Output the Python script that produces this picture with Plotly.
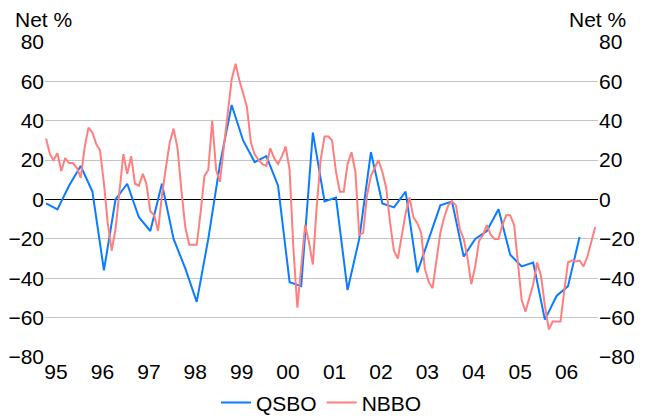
import plotly.graph_objects as go
import pandas as pd

# Quarterly QSBO (1995Q1 .. 2006Q3)
qsbo_values = [
    -2, -5, 7, 17,
    4, -36, 0, 8,
    -9, -16, 8, -20,
    -35, -52, -20, 18,
    48, 30, 19, 22,
    7, -42, -44, 34,
    -1, 1, -46, -20,
    24, -2, -4, 4,
    -37, -20, -3, -1,
    -29, -20, -16, -5,
    -28, -34, -32, -61,
    -49, -44, -19,
]
# Monthly NBBO (Jan 1995 .. Nov 2006)
nbbo_values = [
    31, 23, 20, 23.5, 14.5, 21, 18.5, 18.5, 16, 11, 26.5, 36.5,
    34, 28, 25, 8, -12, -26, -15, 5, 23, 13, 22, 8,
    7, 13, 8, -6, -8, -16, 2, 16, 29, 36, 26, 5,
    -14, -23, -23, -23, -7, 12, 15, 40, 15, 9, 27, 45,
    61, 69, 61, 54, 47, 29, 23, 20, 18, 17, 26, 21,
    18, 22, 27, 15, -25, -55, -33, -13, -22, -33, -3, 20,
    32, 32, 30, 14, 4, 4, 18, 24, 14, -18, -17, 2,
    12, 16, 20, 14, 6, -12, -26, -30, -19, -7, 1, -9,
    -12, -17, -35, -42, -45, -30, -17, -9, -3, -1, -3, -15,
    -20, -30, -43, -34, -21, -18, -13, -18, -20, -20, -13, -8,
    -8, -13, -32, -51, -57, -50, -43, -32, -39, -54, -66, -62,
    -62, -62, -47, -32, -31, -31.5, -31, -34, -29, -22, -14,
]
qsbo_dates = pd.date_range("1995-01-01", periods=len(qsbo_values), freq="QS")
nbbo_dates = pd.date_range("1995-01-01", periods=len(nbbo_values), freq="MS")

y_ticks = [80, 60, 40, 20, 0, -20, -40, -60, -80]
axis_title = "Net %"

FONT = "Liberation Sans, Arial, sans-serif"
FS = 21

fig = go.Figure()
fig.add_trace(go.Scatter(x=qsbo_dates, y=qsbo_values, name="QSBO", mode="lines",
                         line=dict(color="#0A7CFF", width=2)))
fig.add_trace(go.Scatter(x=nbbo_dates, y=nbbo_values, name="NBBO", mode="lines",
                         line=dict(color="#FF7F7F", width=2), yaxis="y2"))

# the page body adds an 8px offset, so the figure is 8px smaller on each side
fig.update_layout(
    width=642, height=411,
    margin=dict(l=37, r=52, t=34, b=62, autoexpand=False),
    paper_bgcolor="white", plot_bgcolor="white",
    font=dict(family=FONT, size=FS, color="black"),
    showlegend=True,
    legend=dict(orientation="h", x=0.5, xanchor="center",
                yref="container", y=0.039, yanchor="middle",
                font=dict(size=FS), itemwidth=30, tracegroupgap=0),
    xaxis=dict(type="date", range=["1994-12-24", "2006-11-23"],
               tick0="1995-01-01", dtick="M12", tickformat="%y",
               ticklabelshift=10, showgrid=False, zeroline=False, showline=False,
               ticks="", automargin=False),
    yaxis=dict(range=[-80, 80], tickvals=y_ticks, showgrid=True,
               gridcolor="#C4C4C4", gridwidth=1, zeroline=True,
               zerolinecolor="black", zerolinewidth=1, showline=False, ticks="",
               automargin=False),
    yaxis2=dict(range=[-80, 80], tickvals=y_ticks, overlaying="y", side="right",
                showgrid=False, zeroline=False, showline=False, ticks="",
                automargin=False),
    annotations=[
        dict(text=axis_title, xref="paper", yref="paper", x=-0.058, y=1.073,
             xanchor="left", yanchor="middle", showarrow=False, font=dict(size=FS)),
        dict(text=axis_title, xref="paper", yref="paper", x=1.054, y=1.073,
             xanchor="right", yanchor="middle", showarrow=False, font=dict(size=FS)),
    ],
)

fig.write_html("out.html")
